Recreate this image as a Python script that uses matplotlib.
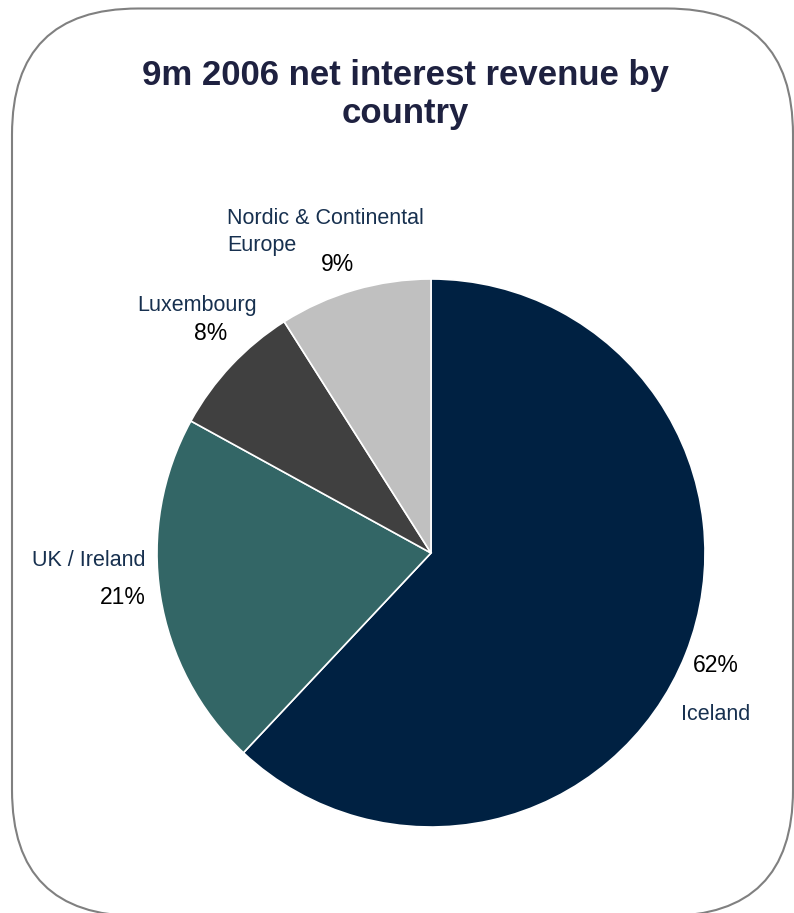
import matplotlib
matplotlib.use("Agg")
import matplotlib.pyplot as plt
from matplotlib.patches import FancyBboxPatch

# net interest revenue share by country, 9m 2006
countries = ["Iceland", "UK / Ireland", "Luxembourg", "Nordic & Continental\nEurope"]
shares = [62, 21, 8, 9]
colors = ["#002142", "#336666", "#404040", "#C0C0C0"]

W, H = 794, 913
fig = plt.figure(figsize=(W / 100, H / 100), dpi=100)
fig.patch.set_facecolor("white")


def px(x, y):
    # pixel position (top-left origin) -> figure fraction
    return x / W, 1 - y / H


plt.rcParams["font.family"] = ["Liberation Sans", "DejaVu Sans"]

# rounded frame around the panel
frame = FancyBboxPatch((0.12, -0.03), 7.81, 9.075,
                       boxstyle="round,pad=0,rounding_size=1.26",
                       transform=fig.dpi_scale_trans,
                       facecolor="none", edgecolor="#808080", linewidth=1.5)
fig.add_artist(frame)

# pie axes: centre (431, 553), radius 274 px
cx, cy, r = 431, 553, 274
ax = fig.add_axes([(cx - r) / W, (H - cy - r) / H, 2 * r / W, 2 * r / H])
ax.pie(shares, colors=colors, startangle=90, counterclock=False, radius=1,
       wedgeprops=dict(edgecolor="white", linewidth=1.2))
ax.set_xlim(-1, 1)
ax.set_ylim(-1, 1)
ax.set_aspect("equal")
ax.axis("off")

title_col = "#1E2140"
fig.text(*px(405, 75), "9m 2006 net interest revenue by", ha="center", va="center",
         fontsize=25, fontweight="bold", color=title_col)
fig.text(*px(405, 114), "country", ha="center", va="center",
         fontsize=25, fontweight="bold", color=title_col)

name_col = "#17304F"
pct_col = "#000000"
name_fs, pct_fs = 15.5, 16.5

# Nordic & Continental Europe (two lines drawn separately)
line1, line2 = countries[3].split("\n")
fig.text(*px(227, 219), line1, ha="left", va="center", fontsize=name_fs, color=name_col)
fig.text(*px(227, 245), line2, ha="left", va="center", fontsize=name_fs, color=name_col)
fig.text(*px(337, 264), f"{shares[3]}%", ha="center", va="center", fontsize=pct_fs, color=pct_col)
# Luxembourg
fig.text(*px(197, 305), countries[2], ha="center", va="center", fontsize=name_fs, color=name_col)
fig.text(*px(211, 333), f"{shares[2]}%", ha="center", va="center", fontsize=pct_fs, color=pct_col)
# UK / Ireland
fig.text(*px(89, 561), countries[1], ha="center", va="center", fontsize=name_fs, color=name_col)
fig.text(*px(146, 598), f"{shares[1]}%", ha="right", va="center", fontsize=pct_fs, color=pct_col)
# Iceland
fig.text(*px(716, 666), f"{shares[0]}%", ha="center", va="center", fontsize=pct_fs, color=pct_col)
fig.text(*px(716, 715), countries[0], ha="center", va="center", fontsize=name_fs, color=name_col)

fig.savefig("out.png", dpi=100, facecolor="white")
